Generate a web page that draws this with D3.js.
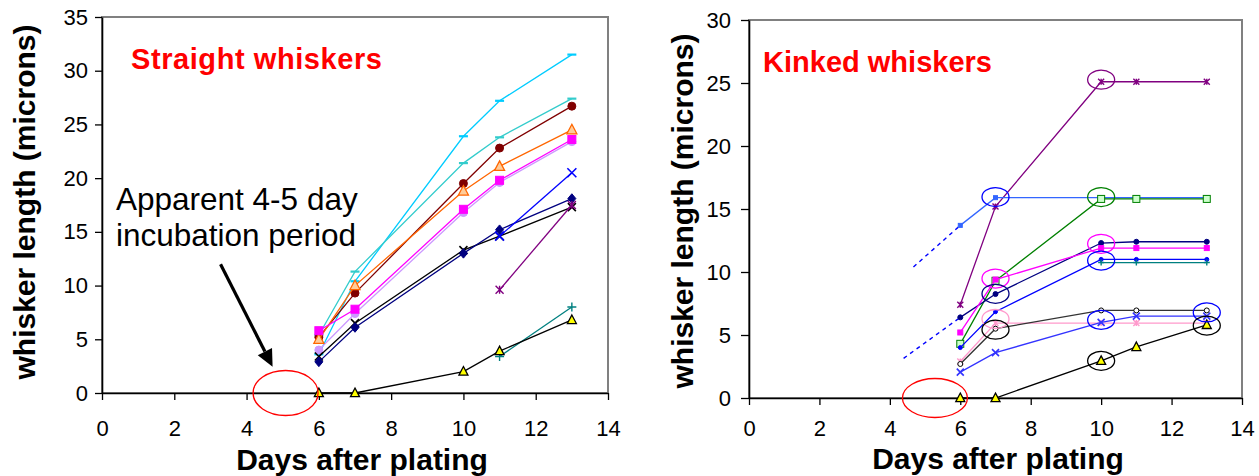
<!DOCTYPE html>
<html>
<head>
<meta charset="utf-8">
<script src="https://cdn.jsdelivr.net/npm/d3@7"></script>
<style>
  html, body { margin: 0; padding: 0; background: #fff; }
  svg { display: block; font-family: "Liberation Sans", Arial, sans-serif; }
</style>
</head>
<body>
<svg id="chart" width="1259" height="476"></svg>
<script>
// days when whiskers were measured
const days = [6, 7, 10, 11, 13];
const xTicks = [0, 2, 4, 6, 8, 10, 12, 14];
const straightTicks = [0, 5, 10, 15, 20, 25, 30, 35];
const kinkedTicks = [0, 5, 10, 15, 20, 25, 30];

// straight whiskers (null = not measured)
const sSkyBlue   = [3.6, 10.4, 23.9, 27.2, 31.5];
const sTurquoise = [5.4, 11.3, 21.4, 23.8, 27.4];
const sMaroon    = [5.2, 9.3, 19.5, 22.8, 26.7];
const sOrange    = [5.0, 10.0, 18.8, 21.1, 24.5];
const sMagenta   = [5.8, 7.8, 17.1, 19.8, 23.6];
const sLilac     = [4.0, 7.4, 16.8, 19.6, 23.4];
const sBlue      = [null, null, null, 14.6, 20.5];
const sNavy      = [2.9, 6.1, 13.0, 15.2, 18.1];
const sBlack     = [3.4, 6.5, 13.3, 14.6, 17.3];
const sPurple    = [null, null, null, 9.6, 17.5];
const sTeal      = [null, null, null, 3.4, 8.0];
const sYellow    = [0, 0, 2.0, 3.9, 6.8];

// kinked whiskers
const kPurple     = [7.4, 15.2, 25.1, 25.1, 25.1];
const kCornflower = [13.7, 15.9, 15.9, 15.9, 15.9];
const kGreen      = [4.3, 9.3, 15.8, 15.8, 15.8];
const kNavy       = [6.4, 8.25, 12.3, 12.4, 12.4];
const kMagenta    = [5.2, 9.4, 11.9, 11.9, 11.9];
const kBlue       = [4.0, 6.85, 11.0, 11.0, 11.0];
const kTeal       = [null, null, 10.75, 10.75, 10.75];
const kBlack      = [2.7, 5.5, 6.95, 6.95, 6.95];
const kPink       = [2.9, 5.95, 5.95, 5.95, 5.95];
const kBlueX      = [2.05, 3.6, 6.0, 6.5, 6.5];
const kYellow     = [0, 0, 2.95, 4.05, 5.8];

// back-extrapolated (dashed) starts for two kinked series
const extrapDays = [4.67, 4.39];
const extrapValues = [10.4, 3.15];

// circled points on the kinked chart
const circledDays   = [10, 7, 10, 10, 10, 7, 7, 7, 7, 10, 10, 13, 13];
const circledValues = [25.26, 15.95, 15.95, 12.24, 10.91, 9.48, 8.27, 6.27, 5.42, 6.2, 2.95, 6.79, 5.75];
const circledColors = ["#800080", "#0000FF", "#008000", "#FF00FF", "#0000FF", "#FF00FF",
                       "#000080", "#FF99CC", "#000000", "#0000FF", "#000000", "#0000FF", "#000000"];

// incubation period marker (day)
const incubationDayStraight = 5.08;
const incubationDayKinked = 5.28;

const svg = d3.select("#chart");

function drawMarker(g, type, x, y, s, stroke, fill) {
    const h = s / 2;
    if (type === "circle") {
        g.append("circle").attr("cx", x).attr("cy", y).attr("r", h)
            .attr("fill", fill).attr("stroke", stroke).attr("stroke-width", 1);
    } else if (type === "square") {
        g.append("rect").attr("x", x - h).attr("y", y - h).attr("width", s).attr("height", s)
            .attr("fill", fill).attr("stroke", stroke).attr("stroke-width", 1);
    } else if (type === "diamond") {
        g.append("path").attr("d", `M${x},${y - h * 1.2}L${x + h},${y}L${x},${y + h * 1.2}L${x - h},${y}Z`)
            .attr("fill", fill).attr("stroke", stroke).attr("stroke-width", 1);
    } else if (type === "triangle") {
        g.append("path").attr("d", `M${x},${y - h * 1.1}L${x + h},${y + h * 0.8}L${x - h},${y + h * 0.8}Z`)
            .attr("fill", fill).attr("stroke", stroke).attr("stroke-width", 1.3);
    } else if (type === "x") {
        g.append("path").attr("d", `M${x - h},${y - h}L${x + h},${y + h}M${x - h},${y + h}L${x + h},${y - h}`)
            .attr("stroke", stroke).attr("stroke-width", 1.6).attr("fill", "none");
    } else if (type === "star") {
        g.append("path").attr("d", `M${x - h},${y - h}L${x + h},${y + h}M${x - h},${y + h}L${x + h},${y - h}M${x},${y - h}L${x},${y + h}`)
            .attr("stroke", stroke).attr("stroke-width", 1.4).attr("fill", "none");
    } else if (type === "plus") {
        g.append("path").attr("d", `M${x - h},${y}L${x + h},${y}M${x},${y - h}L${x},${y + h}`)
            .attr("stroke", stroke).attr("stroke-width", 1.4).attr("fill", "none");
    } else if (type === "dash") {
        g.append("path").attr("d", `M${x - h},${y}L${x + h},${y}`)
            .attr("stroke", stroke).attr("stroke-width", 2.2).attr("fill", "none");
    }
}

function drawPanel(p) {
    const x = d3.scaleLinear().domain([0, 14]).range([p.left, p.right]);
    const y = d3.scaleLinear().domain([0, p.yMax]).range([p.bottom, p.top]);
    const g = svg.append("g");

    // plot frame
    g.append("rect")
        .attr("x", p.left).attr("y", p.top)
        .attr("width", p.right - p.left).attr("height", p.bottom - p.top)
        .attr("fill", "none").attr("stroke", "#808080").attr("stroke-width", 2);

    const yAxis = g.append("g")
        .attr("transform", `translate(${p.left},0)`)
        .call(d3.axisLeft(y).tickValues(p.yTicks).tickSize(p.yTickSize).tickPadding(p.yPad).tickSizeOuter(0));
    const xAxis = g.append("g")
        .attr("transform", `translate(0,${p.bottom})`)
        .call(d3.axisBottom(x).tickValues(xTicks).tickSize(7).tickPadding(p.xPad).tickSizeOuter(0));

    [xAxis, yAxis].forEach(a => {
        a.select(".domain").attr("stroke", "#000").attr("stroke-width", 1.6);
        a.selectAll(".tick line").attr("stroke", "#000").attr("stroke-width", 1.3);
        a.selectAll(".tick text")
            .attr("fill", "#000")
            .style("font-size", "22px")
            .style("font-family", "'Liberation Sans', Arial, sans-serif");
    });

    const line = d3.line()
        .defined(d => d.v !== null)
        .x(d => x(d.day))
        .y(d => y(d.v));

    if (p.before) p.before(g, x, y);

    p.series.forEach(s => {
        const pts = days.map((day, i) => ({ day: day, v: s.values[i] }));
        g.append("path")
            .datum(pts)
            .attr("d", line)
            .attr("fill", "none")
            .attr("stroke", s.line || s.color)
            .attr("stroke-width", s.width || 1.3);
        pts.filter(d => d.v !== null).forEach(d => {
            drawMarker(g, s.marker, x(d.day), y(d.v), s.size, s.color, s.fill || s.color);
        });
    });

    if (p.after) p.after(g, x, y);

    // axis titles
    g.append("text")
        .attr("x", p.xTitleX).attr("y", p.xTitleY)
        .attr("text-anchor", "middle")
        .style("font-size", "30px").style("font-weight", "bold")
        .text("Days after plating");
    g.append("text")
        .attr("transform", `translate(${p.yTitleX},${p.yTitleY}) rotate(-90)`)
        .attr("text-anchor", "middle")
        .style("font-size", "30px").style("font-weight", "bold")
        .text("whisker length (microns)");

    g.append("text")
        .attr("x", p.titleX).attr("y", p.titleY)
        .attr("fill", "#FF0000")
        .attr("textLength", p.titleLen)
        .style("font-size", "29px").style("font-weight", "bold")
        .text(p.title);
}

drawPanel({
    left: 102, right: 608, top: 17, bottom: 393, yMax: 35,
    yTicks: straightTicks, yTickSize: 7, yPad: 7, xPad: 20,
    title: "Straight whiskers", titleX: 131, titleY: 69, titleLen: 251,
    xTitleX: 362, xTitleY: 470, yTitleX: 35, yTitleY: 202,
    series: [
        { values: sSkyBlue, color: "#00CCFF", marker: "dash", size: 9 },
        { values: sTurquoise, color: "#33CCCC", marker: "dash", size: 9 },
        { values: sLilac, color: "#CC99FF", marker: "circle", size: 8 },
        { values: sMaroon, color: "#800000", marker: "circle", size: 8 },
        { values: sOrange, color: "#FF6600", fill: "#FFCC99", marker: "triangle", size: 10 },
        { values: sMagenta, color: "#FF00FF", marker: "square", size: 8 },
        { values: sBlack, color: "#000000", marker: "x", size: 8 },
        { values: sNavy, color: "#000080", marker: "diamond", size: 8 },
        { values: sBlue, color: "#0000FF", marker: "x", size: 9 },
        { values: sPurple, color: "#800080", marker: "star", size: 8 },
        { values: sTeal, color: "#008080", marker: "plus", size: 9 },
        { values: sYellow, color: "#000000", fill: "#FFFF00", marker: "triangle", size: 9 }
    ],
    after: (g, x, y) => {
        g.append("ellipse")
            .attr("cx", x(incubationDayStraight)).attr("cy", y(0))
            .attr("rx", 32.5).attr("ry", 22.5)
            .attr("fill", "none").attr("stroke", "#FF0000").attr("stroke-width", 1.3);

        g.append("text").attr("x", 116).attr("y", 210)
            .style("font-size", "31.5px").text("Apparent 4-5 day");
        g.append("text").attr("x", 116).attr("y", 246)
            .style("font-size", "31.5px").text("incubation period");

        // arrow pointing at the incubation ellipse
        const x1 = x(3.28), y1 = y(11.98), x2 = x(4.72), y2 = y(2.45);
        const ang = Math.atan2(y2 - y1, x2 - x1);
        const len = 17, wid = 8;
        const bx = x2 - len * Math.cos(ang), by = y2 - len * Math.sin(ang);
        g.append("line")
            .attr("x1", x1).attr("y1", y1).attr("x2", bx).attr("y2", by)
            .attr("stroke", "#000").attr("stroke-width", 3.2);
        g.append("path")
            .attr("d", `M${x2},${y2}L${bx + wid * Math.sin(ang)},${by - wid * Math.cos(ang)}L${bx - wid * Math.sin(ang)},${by + wid * Math.cos(ang)}Z`)
            .attr("fill", "#000");
    }
});

drawPanel({
    left: 749, right: 1242, top: 20, bottom: 398, yMax: 30,
    yTicks: kinkedTicks, yTickSize: 8, yPad: 10, xPad: 15,
    title: "Kinked whiskers", titleX: 763, titleY: 72, titleLen: 229,
    xTitleX: 998, xTitleY: 469, yTitleX: 693, yTitleY: 211,
    before: (g, x, y) => {
        // dashed back-extrapolation to the day-6 values
        const targets = [kCornflower[0], kNavy[0]];
        extrapDays.forEach((d, i) => {
            g.append("line")
                .attr("x1", x(d)).attr("y1", y(extrapValues[i]))
                .attr("x2", x(days[0])).attr("y2", y(targets[i]))
                .attr("stroke", "#0000FF").attr("stroke-width", 1.4)
                .attr("stroke-dasharray", "4,4");
        });
    },
    series: [
        { values: kPurple, color: "#800080", marker: "star", size: 6 },
        { values: kCornflower, color: "#3366FF", marker: "square", size: 4 },
        { values: kGreen, color: "#008000", fill: "#CCFFCC", marker: "square", size: 7 },
        { values: kNavy, color: "#000080", marker: "circle", size: 5 },
        { values: kMagenta, color: "#FF00FF", marker: "square", size: 5 },
        { values: kBlue, color: "#0000FF", marker: "circle", size: 4 },
        { values: kTeal, color: "#008080", marker: "plus", size: 6 },
        { values: kPink, color: "#FF99CC", marker: "star", size: 6 },
        { values: kBlack, color: "#000000", line: "#333333", fill: "#FFFFFF", marker: "circle", size: 5 },
        { values: kBlueX, color: "#3333FF", marker: "x", size: 7 },
        { values: kYellow, color: "#000000", fill: "#FFFF00", marker: "triangle", size: 9 }
    ],
    after: (g, x, y) => {
        circledDays.forEach((d, i) => {
            g.append("ellipse")
                .attr("cx", x(d)).attr("cy", y(circledValues[i]))
                .attr("rx", 13.5).attr("ry", 9.5)
                .attr("fill", "none").attr("stroke", circledColors[i]).attr("stroke-width", 1.3);
        });
        g.append("ellipse")
            .attr("cx", x(incubationDayKinked)).attr("cy", y(0))
            .attr("rx", 32.5).attr("ry", 19.5)
            .attr("fill", "none").attr("stroke", "#FF0000").attr("stroke-width", 1.3);
    }
});
</script>
</body>
</html>
